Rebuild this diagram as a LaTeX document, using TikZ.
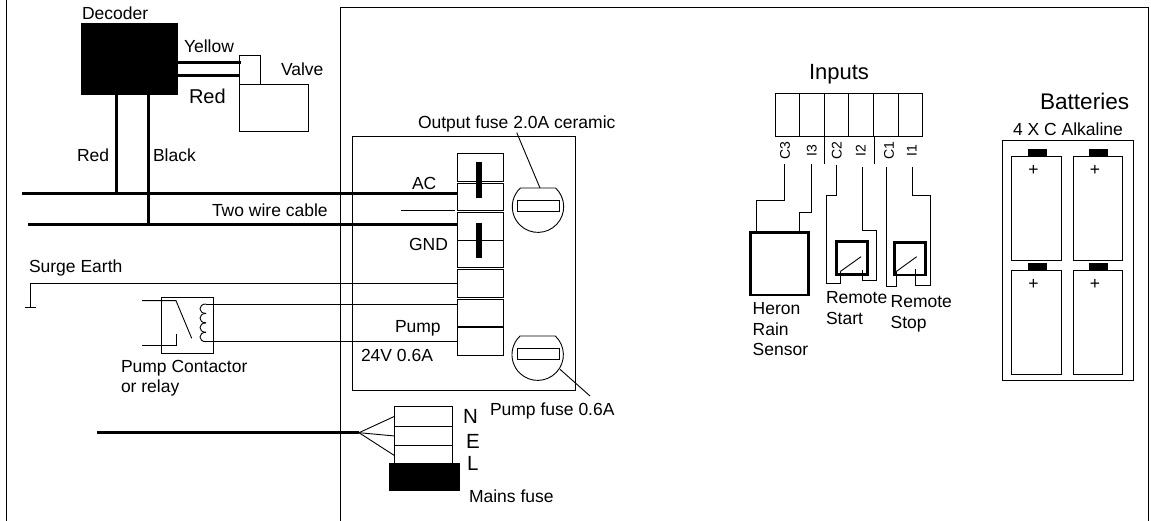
\documentclass[tikz,border=0pt]{standalone}
\usepackage{fontspec}
\setsansfont{Liberation Sans}
\usepackage{xcolor}
\usepackage{tikz}
\usetikzlibrary{positioning}

\tikzset{
	wire/.style={line width=0.9pt},
	cable/.style={line width=3pt},
	lbl/.style={anchor=base west, inner sep=0pt, outer sep=0pt, align=left},
	box/.style={draw, line width=0.9pt, anchor=north west, inner sep=0pt, outer sep=0pt},
	term/.style={box, minimum width=46.5pt, minimum height=27.5pt},
	mainsterm/.style={box, minimum width=58pt, minimum height=19.5pt},
	inputterm/.style={box, minimum width=24.6pt, minimum height=43.4pt},
	switchbox/.style={box, line width=2.6pt, minimum width=31pt, minimum height=32.6pt},
	cell/.style={box, minimum width=49.3pt, minimum height=104pt},
	blackbox/.style={fill=black, inner sep=0pt, outer sep=0pt, anchor=north west},
	pinlabel/.style={rotate=90, inner sep=0pt, outer sep=0pt, minimum width=26pt, font=\sffamily\fontsize{14}{16}\selectfont},
	fusepic/.pic={
		\draw[wire] (-17.6,-18.7) -- (17.6,-18.7) arc[start angle=-46.7, end angle=226.7, radius=25.7];
		\draw[wire] (-20.7,-6) rectangle (21.7,5);
	}
}

\begin{document}
\begin{tikzpicture}[x=1pt, y=-1pt, font=\sffamily\fontsize{17.5}{20.5}\selectfont]
\useasboundingbox (0,0) rectangle (1151,521);

% frames
\draw[wire] (6,0)--(6,521);
\draw[wire] (340,521)--(340,7)--(1148,7)--(1148,521);
\node(panel)[box, minimum width=223pt, minimum height=253.3pt] at (352,136.7){};

% decoder and valve
\node(decoder)[blackbox, minimum width=97pt, minimum height=72pt] at (81,23){};
\node(decoderLbl)[lbl] at (82,20){Decoder};
\node(valveCoil)[box, minimum width=21pt, minimum height=29pt] at (239,55){};
\node(valve)[box, minimum width=69pt, minimum height=47pt] at (239,84){};
\node(yellowLbl)[lbl] at (184,53){Yellow};
\node(redLbl)[lbl, font=\sffamily\fontsize{20}{22}\selectfont] at (189,104){Red};
\node(valveLbl)[lbl] at (281,76){Valve};
\node(redTapLbl)[lbl] at (77,162){Red};
\node(blackLbl)[lbl] at (153,162){Black};
\node(cableLbl)[lbl] at (212,217){Two wire cable};
\node(surgeLbl)[lbl] at (29,273){Surge Earth};

% terminals
\node(t1)[term] at (457,153.5){};
\foreach \a/\b/\gap in {t1/t2/2, t2/t3/2.2, t3/t4/0, t4/t5/2, t5/t6/2, t6/t7/1}
	\node(\b)[term, anchor=north, below=\gap pt of \a]{};
\node(linkA)[blackbox, anchor=north, minimum width=6pt, minimum height=36pt] at (479.3,162){};
\node(linkB)[blackbox, anchor=north, minimum width=6pt, minimum height=35.5pt] at (479.3,222.7){};
\node(acLbl)[lbl] at (412,190){AC};
\node(gndLbl)[lbl] at (409,250.7){GND};
\node(pumpLbl)[lbl] at (395,332){Pump};
\node(pumpVLbl)[lbl] at (361,361.7){24V 0.6A};
\node(outFuseLbl)[lbl] at (418,129){Output fuse 2.0A ceramic};
\node(pumpFuseLbl)[lbl] at (490,415.7){Pump fuse 0.6A};

\coordinate (fuseOut) at (538,206.7);
\coordinate (fusePump) at (537.7,354.7);
\pic at (fuseOut) {fusepic};
\pic at (fusePump) {fusepic};

% cable
\coordinate (acFree) at (22,193.5);
\coordinate (gndFree) at (28,225);
\coordinate (redTap) at (116,193.5);
\coordinate (blackTap) at (148,225);
\coordinate (yellowEnd) at (241,63);
\coordinate (redEnd) at (239,76);
\coordinate (thinFree) at (400.7,210.7);
\draw[cable] (acFree)--(acFree -| t2.west);
\draw[cable] (gndFree)--(gndFree -| t3.west);
\draw[cable] (decoder.south -| redTap)--(redTap);
\draw[cable] (decoder.south -| blackTap)--(blackTap);
\draw[cable] (yellowEnd -| decoder.east)--(yellowEnd);
\draw[cable] (redEnd -| decoder.east)--(redEnd);
\draw[wire] (thinFree)--(thinFree -| 455,0);
\draw[wire] (outFuseLbl.south)--([xshift=2pt,yshift=18.7pt]fuseOut);
\coordinate (pumpLeadA) at (560,369.3);
\coordinate (pumpLeadB) at (590,396);
\draw[wire] (pumpLeadA)--(pumpLeadB);

% earth and relay
\coordinate (earth) at (30.5,307.5);
\draw[wire] (t5.west)-|(earth);
\draw[wire] ([xshift=-5.5pt]earth)--([xshift=5.5pt]earth);
\node(relay)[box, minimum width=52.4pt, minimum height=56.3pt] at (161.3,297){};
\coordinate (coilTop) at (206,304);
\coordinate (coilBot) at (206,341.7);
\draw[wire] (coilTop)--(coilTop -| t6.west);
\draw[wire] (coilBot)--(coilBot -| t7.west);
\foreach \k in {0,1,2,3}
	\draw[wire] (coilTop) ++(0,{9.43*\k}) to[out=180,in=180,distance=8pt] ++(0,9.43);
\coordinate (contactA) at (142,300.7);
\coordinate (contactB) at (176,300.7);
\coordinate (contactC) at (191.7,338.3);
\coordinate (contactD) at (142,345.7);
\coordinate (contactE) at (176,334.3);
\draw[wire] (contactA)--(contactB)--(contactC);
\draw[wire] (contactD)-|(contactE);
\node(relayLbl)[lbl] at (121,392.7){Pump Contactor\\or relay};

% mains
\node(m1)[mainsterm] at (394.3,406.7){};
\node(m2)[mainsterm, anchor=north, below=0pt of m1]{};
\node(m3)[mainsterm, anchor=north, below=0pt of m2]{};
\node(mainsFuse)[blackbox, minimum width=70.7pt, minimum height=28pt] at (389.3,463){};
\coordinate (mainsFree) at (97,432.7);
\coordinate (fan) at (359,432.7);
\draw[cable] (mainsFree)--(fan);
\foreach \m in {m1,m2,m3}
	\draw[wire] (fan)--(\m.west);
\node(nLbl)[lbl, font=\sffamily\fontsize{20.5}{22}\selectfont] at (463,423){N};
\node(eLbl)[lbl, font=\sffamily\fontsize{20.5}{22}\selectfont] at (466,448){E};
\node(lLbl)[lbl, font=\sffamily\fontsize{20.5}{22}\selectfont] at (467,470){L};
\node(mainsLbl)[lbl] at (469,502.7){Mains fuse};

% inputs
\node(inputsLbl)[lbl, font=\sffamily\fontsize{22}{24}\selectfont] at (809,80){Inputs};
\node(in1)[inputterm] at (775,93.3){};
\foreach \a/\b in {in1/in2, in2/in3, in3/in4, in4/in5, in5/in6}
	\node(\b)[inputterm, anchor=west, right=0pt of \a]{};
\foreach \n/\x/\t in {pinCc/785/C3, pinIc/811.7/I3, pinCb/836.7/C2, pinIb/860.7/I2, pinCa/889/C1, pinIa/911.7/I1}
	\node(\n)[pinlabel] at (\x,151){\t};
\coordinate (sepA) at (824.3,164);
\coordinate (sepB) at (874,164);
\draw[wire] (sepA |- in3.south)--(sepA);
\draw[wire] (sepB |- in5.south)--(sepB);

\coordinate (wireCc) at (784.3,164);
\coordinate (wireIc) at (811.3,164);
\coordinate (wireCb) at (836.7,165);
\coordinate (wireIb) at (862.7,166.7);
\coordinate (wireCa) at (886.7,166.7);
\coordinate (wireIa) at (912.7,166.7);

\node(heron)[box, line width=2.8pt, minimum width=57.6pt, minimum height=62.3pt] at (750.7,232.7){};
\node(heronLbl)[lbl] at (752.7,355.7){Heron\\Rain\\Sensor};
\draw[wire] (wireCc)--++(0,36.3)-|([xshift=6pt]heron.north west);
\draw[wire] (wireIc)--++(0,48.7)-|([xshift=48.6pt]heron.north west);

\node(startSw)[switchbox] at (836.7,241.7){};
\node(stopSw)[switchbox] at (894.5,242.3){};
\node(startLbl)[lbl] at (826,324.3){Remote\\Start};
\node(stopLbl)[lbl] at (890.7,328.3){Remote\\Stop};
\coordinate (startA) at (840,271.7);
\coordinate (startB) at (862,270);
\coordinate (startC) at (861,256.7);
\coordinate (stopA) at (896,271.7);
\coordinate (stopB) at (915.7,269.3);
\coordinate (stopC) at (916.7,256.7);
\draw[wire] (startA)--(startC);
\draw[wire] (stopA)--(stopC);
\draw[wire] (wireCb)--++(0,30.3)--++(-10.4,0)--++(0,88)-|(startA);
\draw[wire] (wireIb)--++(0,64)--++(14,0)--++(0,49.3)-|(startB);
\draw[wire] (wireCa)--++(0,119.3)-|(stopA);
\draw[wire] (wireIa)--++(0,28.6)--++(17.3,0)--++(0,90)-|(stopB);

% batteries
\node(battLbl)[lbl, font=\sffamily\fontsize{22.6}{24}\selectfont] at (1040,109.3){Batteries};
\node(alkLbl)[lbl] at (1013,135.7){4 X C Alkaline};
\node(battery)[box, minimum width=131pt, minimum height=239.3pt] at (1002,140.7){};
\foreach \n/\x/\y in {a/1011.7/156.7, b/1073.3/156.7, c/1011.7/270.7, d/1073.3/270.7}{
	\node(cell\n)[cell] at (\x,\y){};
	\node(cap\n)[blackbox, anchor=south, minimum width=19pt, minimum height=6.5pt] at ([xshift=1pt,yshift=1pt]cell\n.north){};
	\node(plus\n)[inner sep=0pt] at ([xshift=-3pt,yshift=-13.5pt]cell\n.north){+};
}
\end{tikzpicture}
\end{document}
